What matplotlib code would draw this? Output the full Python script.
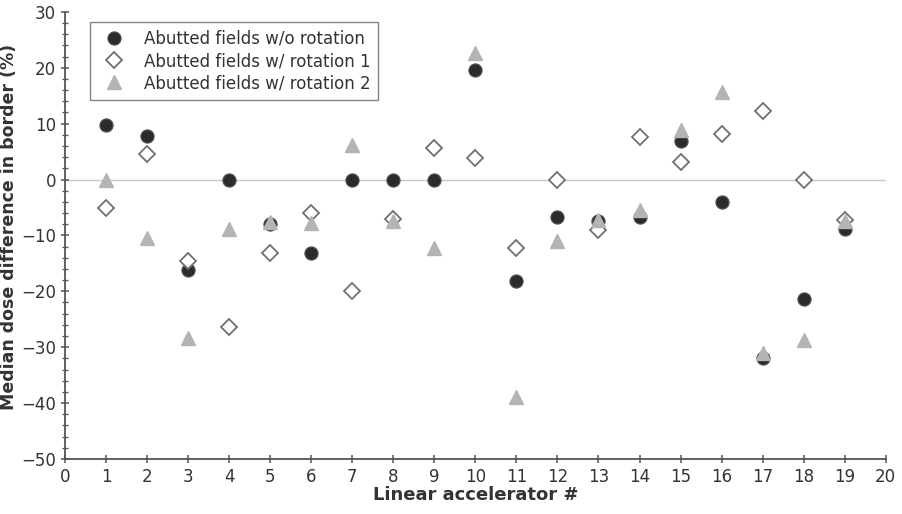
# Median dose difference in the border region for each linear accelerator
import numpy as np
import matplotlib.pyplot as plt
from matplotlib.ticker import MultipleLocator

# Data
linacs = list(range(1, 20))
no_rotation = [9.8, 7.7, -16.1, 0, -7.9, -13.1, 0, 0, 0, 19.6,
               -18.2, -6.7, -7.5, -6.7, 6.9, -4.1, -31.9, -21.3, -8.8]
rotation_1 = [-5.1, 4.6, -14.6, -26.4, -13.1, -6.0, -20.0, -7.0, 5.7, 3.9,
              -12.2, 0, -9.1, 7.6, 3.1, 8.2, 12.2, 0, -7.3]
rotation_2 = [0, -10.4, -28.3, -8.8, -7.6, -7.7, 6.1, -7.5, -12.2, 22.6,
              -38.9, -11.0, -7.3, -5.4, 8.9, 15.7, -31.0, -28.8, -7.5]

plt.rcParams['font.family'] = ['DejaVu Sans']

fig = plt.figure(figsize=(9.02, 5.14), dpi=100)
ax = fig.add_axes([0.072, 0.107, 0.910, 0.870])

ax.axhline(0, color='#c8c8c8', lw=1.0, zorder=1)

ax.plot(linacs, no_rotation, 'o', ms=9.5, color='#2b2b2b', mec='#555555',
        mew=0.8, label='Abutted fields w/o rotation', zorder=3)
ax.plot(linacs, rotation_1, 'D', ms=8.5, mfc='white', mec='#707070',
        mew=1.3, label='Abutted fields w/ rotation 1', zorder=4)
ax.plot(linacs, rotation_2, '^', ms=10, color='#b4b4b4', mec='#b4b4b4',
        label='Abutted fields w/ rotation 2', zorder=5)

ax.set_xlim(0, 20)
ax.set_ylim(-50, 30)
ax.xaxis.set_major_locator(MultipleLocator(1))
ax.yaxis.set_major_locator(MultipleLocator(10))
ax.yaxis.set_minor_locator(MultipleLocator(2))

for s in ['top', 'right']:
    ax.spines[s].set_visible(False)
for s in ['left', 'bottom']:
    ax.spines[s].set_color('#555555')
    ax.spines[s].set_linewidth(1.3)

ax.tick_params(axis='both', which='major', labelsize=12, colors='#555555',
               labelcolor='#333333', length=6, width=1.1, direction='inout')
ax.tick_params(axis='y', which='minor', length=4, width=0.9,
               colors='#555555', direction='inout')

ax.set_xlabel('Linear accelerator #', fontsize=13, fontweight='bold',
              color='#333333', labelpad=0)
ax.set_ylabel('Median dose difference in border (%)', fontsize=12.5,
              fontweight='bold', color='#333333')
ax.yaxis.set_label_coords(-0.057, 0.52)

leg = ax.legend(loc='upper left', bbox_to_anchor=(0.02, 0.995), fontsize=12,
                frameon=True, fancybox=False, edgecolor='#666666',
                borderpad=0.45, handletextpad=0.8, labelspacing=0.25)
leg.get_frame().set_linewidth(1.0)
for t in leg.get_texts():
    t.set_color('#333333')

fig.savefig('out.png', dpi=100)
